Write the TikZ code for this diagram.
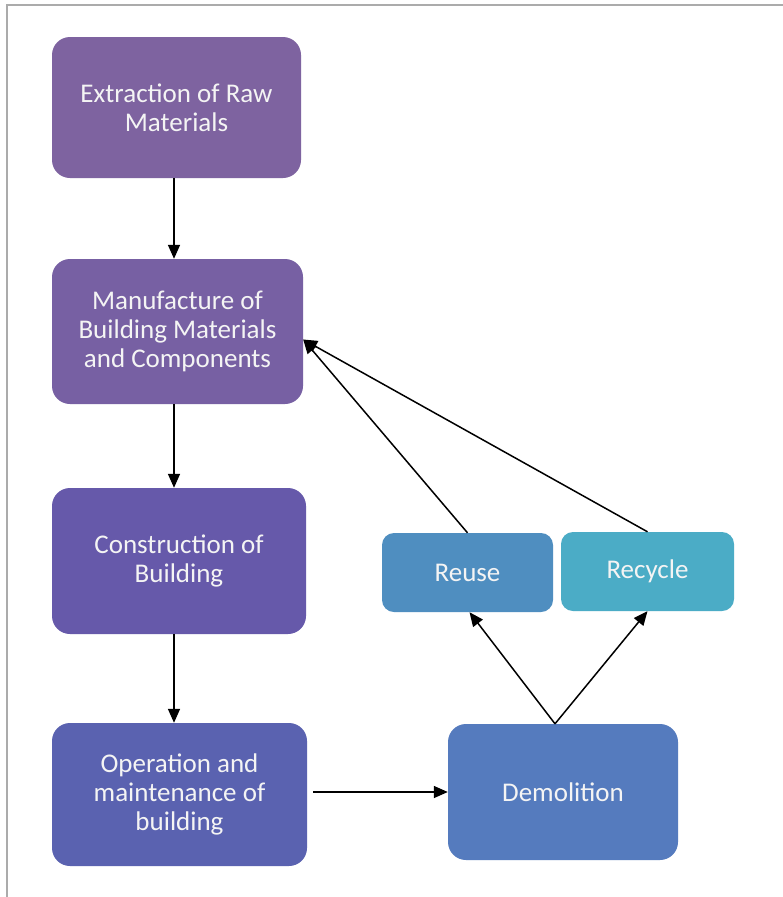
\documentclass[tikz,border=0pt]{standalone}
\usepackage{fontspec}
\setmainfont{Carlito}
\usetikzlibrary{arrows.meta}
\definecolor{cExt}{HTML}{7E63A0}
\definecolor{cMan}{HTML}{7760A3}
\definecolor{cCon}{HTML}{6659AA}
\definecolor{cOp}{HTML}{5A62B0}
\definecolor{cDem}{HTML}{557BBE}
\definecolor{cReu}{HTML}{4F8EC0}
\definecolor{cRec}{HTML}{4BACC6}
\definecolor{cTxt}{HTML}{F4F4F4}
\definecolor{cFrame}{HTML}{ABABAB}
\tikzset{
  box/.style={rounded corners=18pt, inner sep=0pt, text=cTxt, align=center,
    font=\fontsize{27}{29}\selectfont},
  arr/.style={line width=1.5pt, -{Triangle[length=14pt,width=12pt]}}
}
\begin{document}
\begin{tikzpicture}[x=1pt,y=-1pt]
\useasboundingbox (0,0) rectangle (783,897);
\fill[white] (0,0) rectangle (783,897);
\draw[cFrame, line width=2pt] (7,897) -- (7,5) -- (783,5);
\node[box, fill=cExt, minimum width=249pt, minimum height=141pt] (ext) at (176.5,107.5) {Extraction of Raw\\Materials};
\node[box, fill=cMan, minimum width=251pt, minimum height=145pt] (man) at (177.5,331.5) {Manufacture of\\Building Materials\\and Components};
\node[box, fill=cCon, minimum width=254pt, minimum height=146pt] (con) at (179,561) {Construction of\\Building};
\node[box, fill=cOp, minimum width=255pt, minimum height=143pt] (op) at (179.5,794.5) {Operation and\\maintenance of\\building};
\node[box, fill=cDem, minimum width=230pt, minimum height=136pt] (dem) at (563,792) {Demolition};
\node[box, fill=cReu, rounded corners=12pt, minimum width=171pt, minimum height=79pt] (reu) at (467.5,572.5) {Reuse};
\node[box, fill=cRec, rounded corners=12pt, minimum width=173pt, minimum height=79pt] (rec) at (647.5,571.5) {Recycle};
\coordinate (dtop) at ([xshift=-8pt]dem.north);
\coordinate (mhit) at ([yshift=-8pt]man.east);
\draw[arr] ([xshift=-2.5pt]ext.south) -- ([xshift=-3.5pt]man.north);
\draw[arr] ([xshift=-3.5pt]man.south) -- ([xshift=-5pt]con.north);
\draw[arr] ([xshift=-5pt]con.south) -- ([xshift=-5.5pt]op.north);
\draw[arr, shorten <=6pt] (op.east |- dem.west) -- (dem.west);
\draw[arr] (dtop) -- ([xshift=2pt]reu.south);
\draw[arr] (dtop) -- (rec.south);
\draw[arr] (reu.north) -- (mhit);
\draw[arr] (rec.north) -- (mhit);
\end{tikzpicture}
\end{document}
